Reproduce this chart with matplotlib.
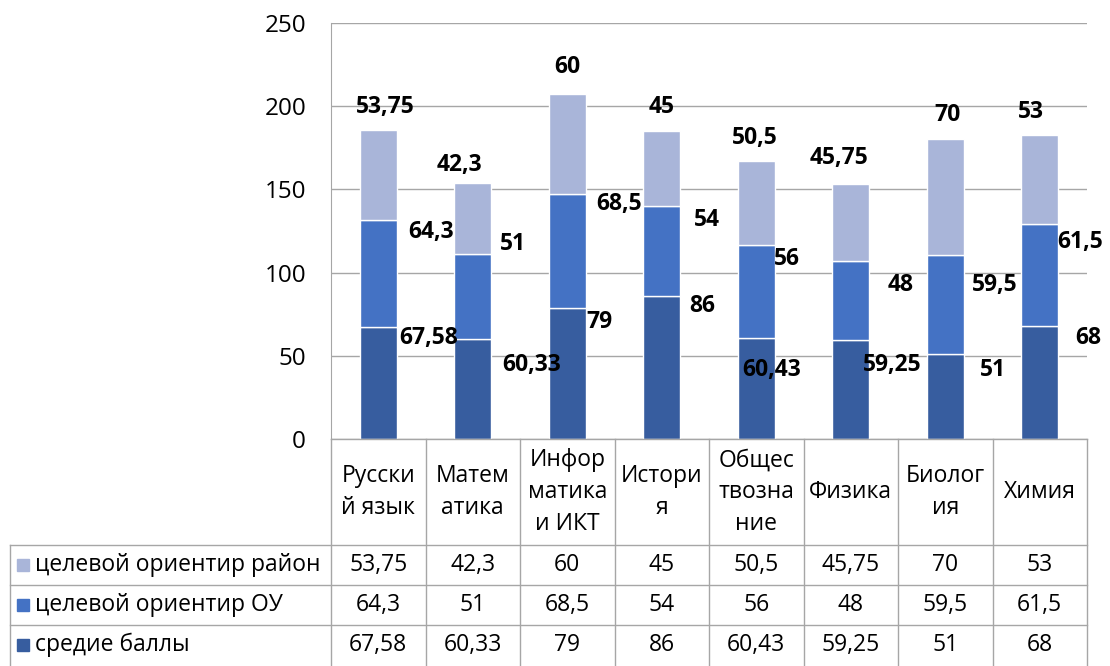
import matplotlib
matplotlib.use("Agg")
import matplotlib.pyplot as plt
from matplotlib.lines import Line2D
from matplotlib.patches import Rectangle
from matplotlib.transforms import blended_transform_factory

plt.rcParams['font.family'] = ['Open Sans', 'DejaVu Sans']

categories = ["Русски\nй язык", "Матем\nатика", "Инфор\nматика\nи ИКТ", "Истори\nя",
              "Общес\nтвозна\nние", "Физика", "Биолог\nия", "Химия"]
series_names = ["целевой ориентир район", "целевой ориентир ОУ", "средие баллы"]
avg_scores = [67.58, 60.33, 79, 86, 60.43, 59.25, 51, 68]
target_school = [64.3, 51, 68.5, 54, 56, 48, 59.5, 61.5]
target_district = [53.75, 42.3, 60, 45, 50.5, 45.75, 70, 53]
yticks = [0, 50, 100, 150, 200, 250]

# label placement (x offset in category units, y in value units), as in the original
top_lbl_dx = [0.07, -0.14, 0, 0, -0.02, -0.12, 0.02, -0.09]
top_lbl_y = [199.5, 164.7, 223.6, 199.5, 180.9, 168.9, 194.7, 196.5]
mid_lbl_dx = [0.56, 0.43, 0.55, 0.48, 0.32, 0.53, 0.52, 0.43]
mid_lbl_y = [124.4, 117.2, 141.2, 131.6, 108.2, 92.6, 92.6, 118.4]
low_lbl_dx = [0.53, 0.62, 0.34, 0.43, 0.16, 0.44, 0.51, 0.51]
low_lbl_y = [60.7, 44.5, 70.3, 79.9, 41.5, 44.5, 41.5, 60.7]

c_low, c_mid, c_top = "#375D9F", "#4472C4", "#A9B5D9"
grid_c = "#A6A6A6"

def fmt(v):
    return f"{v:g}".replace(".", ",")

W, H = 1110, 666
fig = plt.figure(figsize=(W / 100, H / 100), dpi=100)
ax = fig.add_axes([331 / W, 1 - 439 / H, (1087 - 331) / W, (439 - 23) / H])

x = list(range(len(categories)))
xc = [i + 0.5 for i in x]
bw = 0.39
ax.bar(xc, avg_scores, bw, color=c_low, edgecolor="white", linewidth=1, zorder=3)
bottom2 = avg_scores
ax.bar(xc, target_school, bw, bottom=bottom2, color=c_mid, edgecolor="white", linewidth=1, zorder=3)
bottom3 = [a + b for a, b in zip(avg_scores, target_school)]
ax.bar(xc, target_district, bw, bottom=bottom3, color=c_top, edgecolor="white", linewidth=1, zorder=3)

lbl = dict(fontsize=16.5, fontweight="bold", ha="center", va="center", color="black", zorder=5)
for i in x:
    ax.text(xc[i] + top_lbl_dx[i], top_lbl_y[i], fmt(target_district[i]), **lbl)
    ax.text(xc[i] + mid_lbl_dx[i], mid_lbl_y[i], fmt(target_school[i]), **lbl)
    ax.text(xc[i] + low_lbl_dx[i], low_lbl_y[i], fmt(avg_scores[i]), **lbl)

ax.set_xlim(0, len(categories))
ax.set_ylim(0, 250)
ax.set_yticks(yticks)
ax.set_yticklabels([str(t) for t in yticks], fontsize=17.5)
ax.tick_params(axis="y", length=0, pad=18)
ax.set_xticks([])
ax.grid(axis="y", color=grid_c, linewidth=1, zorder=0)
for s in ["top", "right", "bottom"]:
    ax.spines[s].set_visible(False)
ax.spines["left"].set_color(grid_c)

# data table below the plot
tr = blended_transform_factory(ax.transData, fig.transFigure)
fy = lambda py: 1 - py / H
fx = lambda px: px / W
line_kw = dict(color=grid_c, linewidth=1)

fig.add_artist(Line2D([fx(331), fx(1087)], [fy(439), fy(439)], **line_kw))
for yy in [545, 585, 625]:
    fig.add_artist(Line2D([fx(10), fx(1087)], [fy(yy), fy(yy)], **line_kw))
fig.add_artist(Line2D([fx(10), fx(10)], [fy(545), fy(666)], **line_kw))
for i in range(len(categories) + 1):
    fig.add_artist(Line2D([i, i], [fy(439), fy(666)], transform=tr, **line_kw))

tbl_fs = 16.5
for i, name in enumerate(categories):
    fig.text(xc[i], fy(492), name, transform=tr, ha="center", va="center",
             fontsize=tbl_fs, linespacing=1.42)

rows = [(series_names[0], target_district, c_top),
        (series_names[1], target_school, c_mid),
        (series_names[2], avg_scores, c_low)]
row_mid = [565, 605, 645]
for (name, vals, col), ry in zip(rows, row_mid):
    fig.add_artist(Rectangle((fx(17), fy(ry + 6)), 12 / W, 12 / H, color=col,
                             transform=fig.transFigure))
    fig.text(fx(35), fy(ry), name, ha="left", va="center", fontsize=tbl_fs)
    for i, v in enumerate(vals):
        fig.text(xc[i], fy(ry), fmt(v), transform=tr, ha="center", va="center", fontsize=tbl_fs)

fig.savefig("out.png", dpi=100)
